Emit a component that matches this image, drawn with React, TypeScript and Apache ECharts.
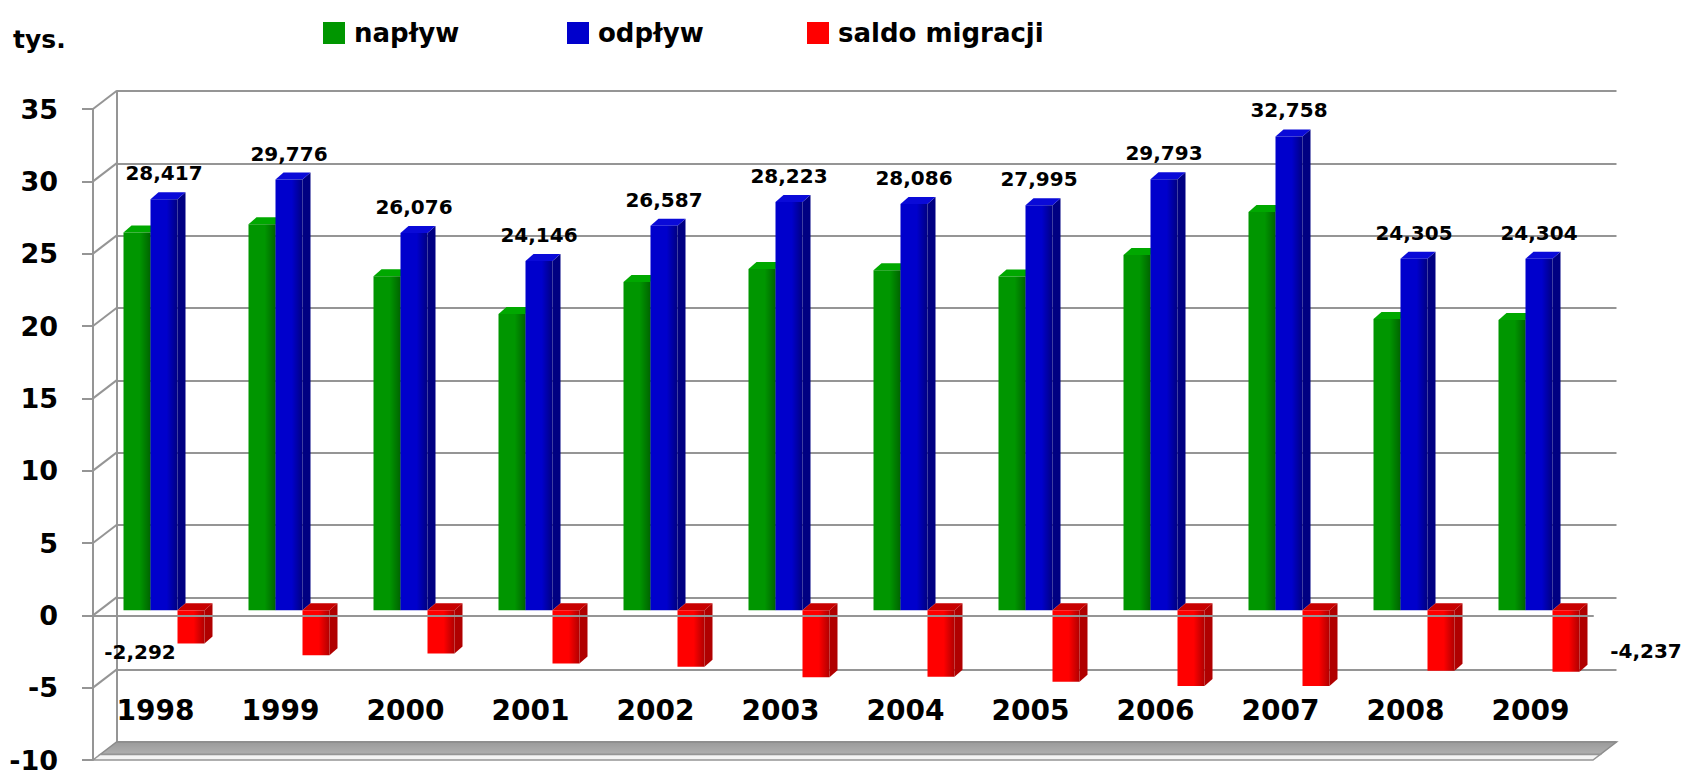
import React, { useEffect, useRef } from 'react';
import * as echarts from 'echarts';

// ---------- data ----------
const years = ['1998', '1999', '2000', '2001', '2002', '2003', '2004', '2005', '2006', '2007', '2008', '2009'];
const naplyw = [26.125, 26.68, 23.1, 20.48, 22.69, 23.59, 23.5, 23.07, 24.56, 27.53, 20.14, 20.07];
const odplyw = [28.417, 29.776, 26.076, 24.146, 26.587, 28.223, 28.086, 27.995, 29.793, 32.758, 24.305, 24.304];
const saldo = [-2.292, -3.1, -2.98, -3.67, -3.9, -4.63, -4.59, -4.93, -5.23, -5.23, -4.17, -4.237];
const seriesNames = ['napływ', 'odpływ', 'saldo migracji'];
const yMin = -10;
const yMax = 35;
const yStep = 5;
const wallTicks = [35, 30, 25, 20, 15, 10, 5, 0, -5];

// ---------- layout / style ----------
const FONT = '"DejaVu Sans", sans-serif';
const FL = 93;
const FT = 109;
const W = 1500;
const H = 651;
const DX = 23.5;
const DY = -18;
const BX = 8.5;
const BY = -5;
const LABEL_TOP = 696;
const GRAY = '#959595';
const BAR_RATIO = 0.216;
const SIDE_DX = 8;
const SIDE_DY = 7;

const palette = [
  { face: '#009600', side: '#006400', top: '#00a800' },
  { face: '#0000cc', side: '#000082', top: '#0a0ad8' },
  { face: '#ff0000', side: '#b00000', top: '#c80000' },
];

const fmt = (v: number) => v.toFixed(3).replace('.', ',');

function makeRender(slot: number) {
  const c = palette[slot];
  return (params: any, api: any) => {
    const idx = params.dataIndex;
    const cat = api.value(0);
    const val = api.value(1);
    const base = api.coord([cat, 0]);
    const end = api.coord([cat, val]);
    const catW = api.size([1, 0])[0];
    const bw = catW * BAR_RATIO;
    const x0 = base[0] + (slot - 1.5) * bw;
    const x1 = x0 + bw;
    const yTop = Math.min(base[1], end[1]);
    const yBot = Math.max(base[1], end[1]);
    const children: any[] = [
      {
        type: 'polygon',
        shape: {
          points: [
            [x1, yTop],
            [x1 + SIDE_DX, yTop - SIDE_DY],
            [x1 + SIDE_DX, yBot - SIDE_DY],
            [x1, yBot],
          ],
        },
        style: { fill: c.side },
      },
      {
        type: 'polygon',
        shape: {
          points: [
            [x0, yTop],
            [x0 + SIDE_DX, yTop - SIDE_DY],
            [x1 + SIDE_DX, yTop - SIDE_DY],
            [x1, yTop],
          ],
        },
        style: { fill: c.top },
      },
      {
        type: 'rect',
        shape: { x: x0, y: yTop, width: bw, height: yBot - yTop },
        style: {
          fill: new echarts.graphic.LinearGradient(0, 0, 1, 0, [
            { offset: 0, color: c.face },
            { offset: 0.6, color: c.face },
            { offset: 1, color: c.side },
          ]),
        },
      },
    ];
    const cx = x0 + bw / 2;
    if (slot === 1) {
      children.push({
        type: 'text',
        style: {
          text: fmt(val),
          x: cx,
          y: yTop - SIDE_DY - 9,
          fill: '#000',
          font: `bold 20px ${FONT}`,
          align: 'center',
          verticalAlign: 'bottom',
          textAlign: 'center',
          textVerticalAlign: 'bottom',
        },
      });
    }
    if (slot === 2 && (idx === 0 || idx === saldo.length - 1)) {
      const first = idx === 0;
      children.push({
        type: 'text',
        style: {
          text: fmt(val),
          x: first ? cx - 51 : cx + 80,
          y: first ? yBot + 9 : yBot - 21,
          fill: '#000',
          font: `bold 20px ${FONT}`,
          align: 'center',
          verticalAlign: 'middle',
          textAlign: 'center',
          textVerticalAlign: 'middle',
        },
      });
    }
    return { type: 'group', children };
  };
}

export default function App() {
  const ref = useRef<HTMLDivElement>(null);

  useEffect(() => {
    document.body.style.margin = '0';
    if (!ref.current) return;
    const chart = echarts.init(ref.current, undefined, { renderer: 'svg' });
    const values = [naplyw, odplyw, saldo];
    const pxPerUnit = H / (yMax - yMin);
    const yFront = (v: number) => FT + (yMax - v) * pxPerUnit;

    const graphics: any[] = [];
    wallTicks.forEach((v) => {
      graphics.push({
        type: 'line',
        shape: { x1: FL, y1: yFront(v), x2: FL + DX, y2: yFront(v) + DY },
        style: { stroke: GRAY, lineWidth: 2 },
        z: 1,
      });
    });
    const yb = FT + H + DY;
    const yf = FT + H;
    const thick = 5.5;
    const sx = (DX * thick) / -DY;
    graphics.push({
      type: 'polygon',
      shape: {
        points: [
          [FL + DX, yb],
          [FL + DX + W, yb],
          [FL + W + sx, yf - thick],
          [FL + sx, yf - thick],
        ],
      },
      style: {
        fill: new echarts.graphic.LinearGradient(0, 0, 0, 1, [
          { offset: 0, color: '#9a9a9a' },
          { offset: 1, color: '#b0b0b0' },
        ]),
        stroke: '#8c8c8c',
        lineWidth: 1.5,
      },
      z: 1,
    });
    graphics.push({
      type: 'polygon',
      shape: {
        points: [
          [FL + sx, yf - thick],
          [FL + W + sx, yf - thick],
          [FL + W, yf],
          [FL, yf],
        ],
      },
      style: { fill: '#f4f4f4', stroke: GRAY, lineWidth: 1.5 },
      z: 1,
    });

    const legendBase = {
      top: 15,
      icon: 'rect',
      itemWidth: 22,
      itemHeight: 22,
      textStyle: { fontFamily: FONT, fontWeight: 'bold', fontSize: 26, color: '#000', padding: [0, 0, 0, 4] },
    };

    const gridBase = { containLabel: false, outerBoundsMode: 'none' };

    chart.setOption({
      animation: false,
      backgroundColor: '#fff',
      title: {
        text: 'tys.',
        left: 13,
        top: 27,
        padding: 0,
        textStyle: { fontFamily: FONT, fontWeight: 'bold', fontSize: 25, color: '#000' },
      },
      legend: [
        { ...legendBase, left: 318, data: [seriesNames[0]] },
        { ...legendBase, left: 562, data: [seriesNames[1]] },
        { ...legendBase, left: 802, data: [seriesNames[2]] },
      ],
      grid: [
        { ...gridBase, left: FL + DX, top: FT + DY, width: W, height: H },
        { ...gridBase, left: FL + BX, top: FT + BY, width: W, height: H },
        { ...gridBase, left: FL, top: FT, width: W, height: H },
        { ...gridBase, left: FL, top: FT, width: W, height: LABEL_TOP - FT },
      ],
      xAxis: [
        { gridIndex: 0, type: 'category', data: years, show: false },
        { gridIndex: 1, type: 'category', data: years, show: false },
        {
          gridIndex: 2,
          type: 'category',
          data: years,
          z: 5,
          axisLine: { onZero: true, lineStyle: { color: GRAY, width: 2 } },
          axisTick: { length: 10, lineStyle: { color: GRAY, width: 2 } },
          axisLabel: { show: false },
        },
        {
          gridIndex: 3,
          type: 'category',
          data: years,
          position: 'bottom',
          axisLine: { show: false, onZero: false },
          axisTick: { show: false },
          axisLabel: { margin: 0, fontFamily: FONT, fontWeight: 'bold', fontSize: 28, color: '#000' },
        },
      ],
      yAxis: [
        {
          gridIndex: 0,
          type: 'value',
          min: yMin,
          max: yMax,
          interval: yStep,
          axisLabel: { show: false },
          axisTick: { show: false },
          axisLine: { show: true, lineStyle: { color: GRAY, width: 2 } },
          splitLine: { show: true, lineStyle: { color: GRAY, width: 2 } },
        },
        { gridIndex: 1, type: 'value', min: yMin, max: yMax, interval: yStep, show: false, splitLine: { show: false } },
        {
          gridIndex: 2,
          type: 'value',
          min: yMin,
          max: yMax,
          interval: yStep,
          axisLine: { show: true, lineStyle: { color: GRAY, width: 2 } },
          axisTick: { show: true, length: 11, lineStyle: { color: GRAY, width: 2 } },
          axisLabel: { margin: 35, fontFamily: FONT, fontWeight: 'bold', fontSize: 27, color: '#000' },
          splitLine: { show: false },
        },
        { gridIndex: 3, type: 'value', min: 0, max: 1, show: false, splitLine: { show: false } },
      ],
      graphic: graphics,
      series: values.map((arr, s) => ({
        type: 'custom',
        name: seriesNames[s],
        xAxisIndex: 1,
        yAxisIndex: 1,
        itemStyle: { color: palette[s].face },
        renderItem: makeRender(s),
        data: arr.map((v, i) => [i, v]),
      })),
    });
    return () => chart.dispose();
  }, []);

  return <div ref={ref} style={{ width: 1685, height: 775 }} />;
}
